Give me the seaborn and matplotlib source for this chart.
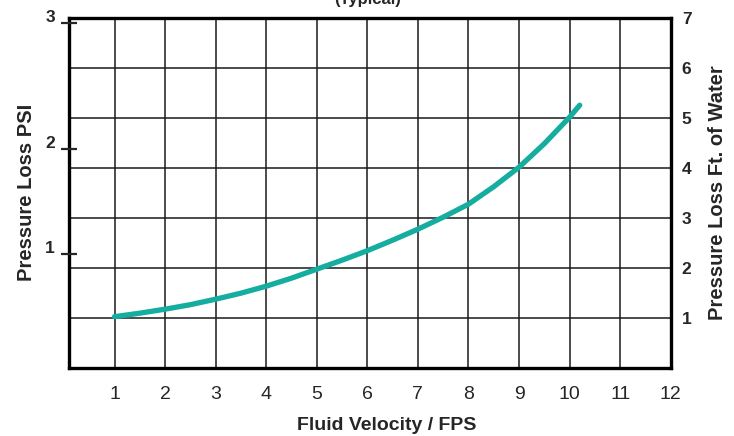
import matplotlib.pyplot as plt
import matplotlib.transforms as mtransforms
import seaborn as sns
import pandas as pd

# Curve (ft. of water vs fluid velocity)
velocity = [1, 1.5, 2, 2.5, 3, 3.5, 4, 4.5, 5, 5.5, 6, 6.5, 7, 7.5, 8, 8.5, 9, 9.5, 10, 10.2]
loss_ft = [1.02, 1.09, 1.17, 1.26, 1.37, 1.49, 1.63, 1.79, 1.97, 2.15, 2.34, 2.55,
           2.77, 3.01, 3.27, 3.62, 4.01, 4.48, 5.01, 5.25]

x_ticks = [1, 2, 3, 4, 5, 6, 7, 8, 9, 10, 11, 12]
ft_ticks = [1, 2, 3, 4, 5, 6, 7]
psi_labels = ['1', '2', '3']
psi_tick_ft = [2.27, 4.37, 6.9]  # where the PSI marks sit on the ft scale

df = pd.DataFrame({'velocity': velocity, 'loss_ft': loss_ft})

sns.set_style('white')
plt.rcParams['font.family'] = ['Liberation Sans', 'DejaVu Sans']

fig = plt.figure(figsize=(7.34, 4.36), dpi=100)
ax = fig.add_axes([0.094, 0.1567, 0.8198, 0.8027])

sns.lineplot(data=df, x='velocity', y='loss_ft', ax=ax, color='#14ada0',
             linewidth=3.8, solid_capstyle='round', solid_joinstyle='round', zorder=3)

ax.set_xlim(0.1, 12)
ax.set_ylim(0, 7)

# grid: vertical lines at 1..11, horizontal at every foot
for v in x_ticks[:-1]:
    ax.axvline(v, color='#1a1a1a', linewidth=1.1, zorder=1)
for f in ft_ticks[:-1]:
    ax.axhline(f, color='#1a1a1a', linewidth=1.1, zorder=1)

for s in ax.spines.values():
    s.set_linewidth(2.4)
    s.set_color('black')

ax.set_xticks(x_ticks)
ax.set_xticklabels([str(v) for v in x_ticks], fontsize=14)
ax.tick_params(axis='x', length=0, pad=13)
ax.set_xlabel('Fluid Velocity / FPS', fontsize=14, fontweight='bold')
ax.xaxis.set_label_coords(0.528, -0.14)

# left axis: PSI
ax2 = ax.twinx()
ax2.set_ylim(ax.get_ylim())
ax2.yaxis.tick_left()
ax2.yaxis.set_label_position('left')
ax2.set_yticks(psi_tick_ft)
ax2.set_yticklabels(psi_labels, fontsize=12.5, fontweight='bold')
ax2.tick_params(axis='y', direction='inout', length=12, width=1.6, pad=4)
offset = mtransforms.ScaledTranslation(0, 5 / 72, fig.dpi_scale_trans)
for lab in ax2.get_yticklabels():
    lab.set_transform(lab.get_transform() + offset)
ax2.set_ylabel('Pressure Loss PSI', fontsize=14.5, fontweight='bold', labelpad=7)
for s in ax2.spines.values():
    s.set_visible(False)

# right axis: ft. of water (set after twinx, which resets tick side)
ax.yaxis.tick_right()
ax.yaxis.set_label_position('right')
ax.set_yticks(ft_ticks)
ax.set_yticklabels([str(v) for v in ft_ticks], fontsize=12.5, fontweight='bold')
ax.tick_params(axis='y', left=False, right=False, length=0, pad=8)
ax.set_ylabel('Pressure Loss Ft. of Water', fontsize=14.5, fontweight='bold', labelpad=12)

# title, mostly cut off at the top edge
fig.text(0.501, 1 - 7 / 436, '(Typical)', ha='center', va='bottom',
         fontsize=12, fontweight='bold')

fig.savefig('out.png', dpi=100)
